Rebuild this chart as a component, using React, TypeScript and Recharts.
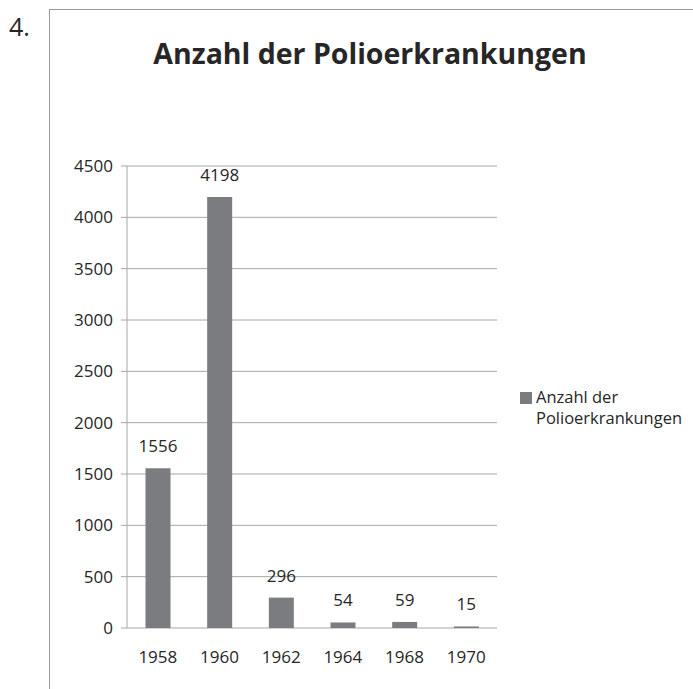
import React from 'react';
import { BarChart, Bar, XAxis, YAxis, CartesianGrid, LabelList } from 'recharts';

const years = ['1958', '1960', '1962', '1964', '1968', '1970'];
const cases = [1556, 4198, 296, 54, 59, 15];
const yTicks = [0, 500, 1000, 1500, 2000, 2500, 3000, 3500, 4000, 4500];
const boundaryTicks = [0, 1, 2, 3, 4, 5, 6];

const seriesName = 'Anzahl der Polioerkrankungen';
const data = years.map((year, i) => ({ year, value: cases[i] }));

const font = '"Open Sans", sans-serif';
const textColor = '#262626';
const barColor = '#7b7c80';
const lineColor = '#a6a6a6';

function LegendBox() {
  return (
    <div
      style={{
        position: 'absolute',
        left: 520,
        top: 386,
        display: 'flex',
        alignItems: 'flex-start',
        fontFamily: font,
        fontSize: 16.5,
        color: textColor,
        lineHeight: '21px',
      }}
    >
      <div style={{ width: 12, height: 12, background: barColor, marginTop: 6, marginRight: 4 }} />
      <div>
        Anzahl der
        <br />
        Polioerkrankungen
      </div>
    </div>
  );
}

export default function App() {
  return (
    <div style={{ position: 'absolute', left: 0, top: 0, width: 693, height: 689, background: '#fff', overflow: 'hidden' }}>
      <div style={{ position: 'absolute', left: 9, top: 9, fontFamily: font, fontSize: 25, color: textColor }}>4.</div>
      <div style={{ position: 'absolute', left: 49, top: 9, width: 644, height: 1, background: '#9a9a9a' }} />
      <div style={{ position: 'absolute', left: 49, top: 9, width: 1, height: 680, background: '#9a9a9a' }} />
      <div
        style={{
          position: 'absolute',
          left: 50,
          width: 640,
          top: 34,
          textAlign: 'center',
          fontFamily: font,
          fontWeight: 700,
          fontSize: 28.5,
          color: textColor,
        }}
      >
        {seriesName}
      </div>
      <BarChart
        width={693}
        height={689}
        data={data}
        margin={{ top: 166, right: 196, bottom: 30, left: 67 }}
        barCategoryGap="30%"
        style={{ fontFamily: font }}
      >
        <CartesianGrid vertical={false} stroke={lineColor} />
        <XAxis
          xAxisId="bounds"
          type="number"
          domain={[0, 6]}
          ticks={boundaryTicks}
          tick={false}
          height={0}
          axisLine={{ stroke: lineColor }}
          tickLine={{ stroke: lineColor }}
          tickSize={6}
        />
        <XAxis
          xAxisId="cat"
          dataKey="year"
          height={31}
          axisLine={false}
          tickLine={false}
          tick={{ fill: textColor, fontSize: 17 }}
          tickMargin={17}
        />
        <YAxis
          width={60}
          domain={[0, 4500]}
          ticks={yTicks}
          interval={0}
          axisLine={{ stroke: lineColor }}
          tickLine={{ stroke: lineColor }}
          tickSize={6}
          tickMargin={8}
          tick={{ fill: textColor, fontSize: 17 }}
        />
        <Bar dataKey="value" xAxisId="cat" name={seriesName} fill={barColor} isAnimationActive={false}>
          <LabelList dataKey="value" position="top" offset={16} fill={textColor} fontSize={17} />
        </Bar>
      </BarChart>
      <LegendBox />
    </div>
  );
}
